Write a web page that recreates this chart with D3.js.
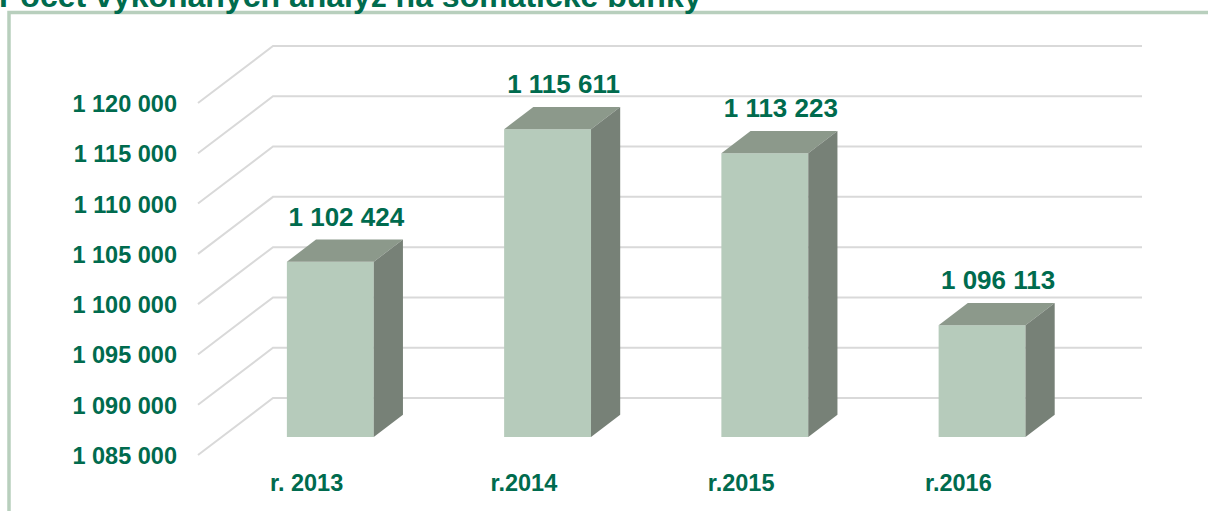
<!DOCTYPE html>
<html>
<head>
<meta charset="utf-8">
<script src="https://cdn.jsdelivr.net/npm/d3@7"></script>
<style>
  html, body { margin: 0; padding: 0; background: #fff; overflow: hidden; }
  svg { display: block; font-family: "Liberation Sans", Arial, sans-serif; }
</style>
</head>
<body>
<svg id="chart" width="1208" height="511"></svg>
<script>
// data
const TITLE = "Počet vykonaných analýz na somatické bunky";
const categories = ["r. 2013", "r.2014", "r.2015", "r.2016"];
const values = [1102424, 1115611, 1113223, 1096113];
const tickValues = [1085000, 1090000, 1095000, 1100000, 1105000, 1110000, 1115000, 1120000];

const TEXTCOLOR = "#006b4e";
const FRONT = "#b6cbbb", TOP = "#8c998b", SIDE = "#778177";
const GRID = "#d9d9d9";

// 3d box: full depth of the floor and where the bars sit in it
const DEPTH_X = 75, DEPTH_Y = -57;
const BAR_F0 = 0.316, BAR_F1 = 0.705;

var svg = d3.select("#chart");

// frame round the chart (only top and left visible)
svg.append("rect")
  .attr("x", 9).attr("y", 12.5)
  .attr("width", 1300).attr("height", 600)
  .attr("fill", "none")
  .attr("stroke", "#b8cfbd")
  .attr("stroke-width", 3.5);

// title, cut off by the top edge in the reference
svg.append("text")
  .attr("x", -1).attr("y", 7)
  .attr("fill", TEXTCOLOR)
  .style("font-size", "32px")
  .style("font-weight", "bold")
  .text(TITLE);

// scales on the front plane
var x = d3.scaleBand()
  .domain(categories)
  .range([198, 1067])
  .paddingInner(0.6)
  .paddingOuter(0.3);

var y = d3.scaleLinear()
  .domain([1085000, 1120000])
  .range([455, 103]);

var fmt = d3.formatLocale({ decimal: ",", thousands: " ", grouping: [3], currency: ["", ""] }).format(",");

// gridlines: side wall diagonal + back wall horizontal
var grid = svg.append("g")
  .attr("stroke", GRID)
  .attr("stroke-width", 2)
  .attr("fill", "none");

grid.selectAll("path")
  .data(tickValues)
  .enter().append("path")
    .attr("d", function(d) {
      var y0 = y(d);
      return "M" + x.range()[0] + "," + y0 +
        "L" + (x.range()[0] + DEPTH_X) + "," + (y0 + DEPTH_Y) +
        "L" + (x.range()[1] + DEPTH_X) + "," + (y0 + DEPTH_Y);
    });

// y axis labels
var yAxis = svg.append("g")
  .attr("transform", "translate(198,0)")
  .call(d3.axisLeft(y).tickValues(tickValues).tickFormat(fmt).tickSize(0).tickPadding(21));

yAxis.select(".domain").remove();
yAxis.selectAll("text")
  .attr("dy", "0.36em")
  .attr("fill", TEXTCOLOR)
  .style("font-family", "'Liberation Sans', Arial, sans-serif")
  .style("font-size", "23.5px")
  .style("font-weight", "bold");

// bars as 3d boxes
var bars = svg.append("g");
var data = categories.map(function(c, i) { return { cat: c, value: values[i] }; });

var box = bars.selectAll("g.bar")
  .data(data)
  .enter().append("g")
    .attr("class", "bar");

function pt(px, py) { return px + "," + py; }

box.each(function(d) {
  var g = d3.select(this);
  var fx0 = x(d.cat) + BAR_F0 * DEPTH_X;
  var fx1 = fx0 + x.bandwidth();
  var yb = y.range()[0] + BAR_F0 * DEPTH_Y;
  var yt = y(d.value) + BAR_F0 * DEPTH_Y;
  var ddx = (BAR_F1 - BAR_F0) * DEPTH_X;
  var ddy = (BAR_F1 - BAR_F0) * DEPTH_Y;

  g.append("polygon")
    .attr("points", [pt(fx0, yt), pt(fx1, yt), pt(fx1, yb), pt(fx0, yb)].join(" "))
    .attr("fill", FRONT);
  g.append("polygon")
    .attr("points", [pt(fx0, yt), pt(fx0 + ddx, yt + ddy), pt(fx1 + ddx, yt + ddy), pt(fx1, yt)].join(" "))
    .attr("fill", TOP);
  g.append("polygon")
    .attr("points", [pt(fx1, yt), pt(fx1 + ddx, yt + ddy), pt(fx1 + ddx, yb + ddy), pt(fx1, yb)].join(" "))
    .attr("fill", SIDE);

  // value label above the box
  g.append("text")
    .attr("x", fx0 + x.bandwidth() / 2 + 16)
    .attr("y", y(d.value) + BAR_F1 * DEPTH_Y - 14)
    .attr("text-anchor", "middle")
    .attr("fill", TEXTCOLOR)
    .style("font-size", "26px")
    .style("font-weight", "bold")
    .text(fmt(d.value));
});

// category labels on the front edge of the floor
svg.append("g").selectAll("text")
  .data(categories)
  .enter().append("text")
    .attr("x", function(d) { return x(d) + x.bandwidth() / 2; })
    .attr("y", 491)
    .attr("text-anchor", "middle")
    .attr("fill", TEXTCOLOR)
    .style("font-size", "23.5px")
    .style("font-weight", "bold")
    .text(function(d) { return d; });
</script>
</body>
</html>
